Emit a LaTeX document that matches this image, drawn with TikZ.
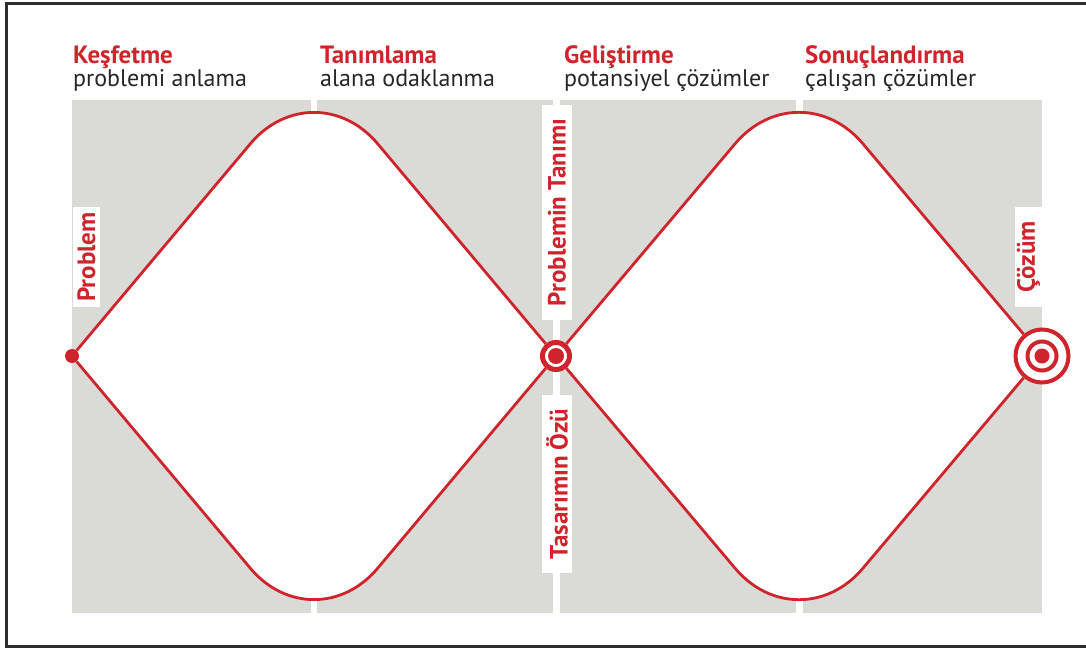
\documentclass[tikz,border=0pt]{standalone}
\usepackage{fontspec}
\setmainfont{PT Sans}
\definecolor{ddred}{RGB}{208,36,44}
\definecolor{panelgray}{RGB}{218,218,214}
\definecolor{framegray}{RGB}{45,45,45}
\begin{document}
\begin{tikzpicture}[x=1pt,y=-1pt,
  panel/.style={fill=panelgray},
  dline/.style={draw=ddred,line width=2.8pt,rounded corners=99pt,line join=round},
  lobe/.style={fill=white,rounded corners=99pt},
  title/.style={anchor=base west,inner sep=0pt,text=ddred,font=\fontsize{25}{28}\selectfont\bfseries},
  subtitle/.style={anchor=base west,inner sep=0pt,text=black!85,font=\fontsize{24}{27}\selectfont},
  vlabel/.style={rotate=90,fill=white,inner sep=0pt,text=ddred,
    font=\fontsize{25}{27}\selectfont\bfseries},
  dot/.style={circle,fill=ddred,inner sep=0pt,minimum size=14pt},
  ring/.style={circle,draw=ddred,fill=white,inner sep=0pt,line width=5pt,minimum size=27pt},
  target/.style={circle,draw=ddred,fill=white,inner sep=0pt,line width=4pt,minimum size=53pt}
]
\useasboundingbox (0,0) rectangle (1086,648);
\clip (0,0) rectangle (1086,648);

% outer frame (open on the right)
\draw[framegray,line width=3pt] (1100,3.5) -- (6.5,3.5) -- (6.5,646.5) -- (1100,646.5);

% four grey phase columns
\fill[panel] (72,100) rectangle (311,613);
\fill[panel] (317,100) rectangle (553,613);
\fill[panel] (560,100) rectangle (796,613);
\fill[panel] (803,100) rectangle (1042,613);

% diamond vertices
\coordinate (t1) at (314,68);
\coordinate (b1) at (314,644);
\coordinate (t2) at (799,68);
\coordinate (b2) at (799,644);
\coordinate (pc) at (72,356);
\coordinate (cc) at (556,356);
\coordinate (sc) at (1042,356);

% white interiors of the two diamonds
\fill[lobe] (pc) -- (t1) -- (cc);
\fill[lobe] (pc) -- (b1) -- (cc);
\fill[lobe] (cc) -- (t2) -- (sc);
\fill[lobe] (cc) -- (b2) -- (sc);

% column headings
\node[title] (h1) at (73,63) {Keşfetme};
\node[subtitle] (s1) at (73,86) {problemi anlama};
\node[title] (h2) at (320,63) {Tanımlama};
\node[subtitle] (s2) at (320,86) {alana odaklanma};
\node[title] (h3) at (564,63) {Geliştirme};
\node[subtitle] (s3) at (564,86) {potansiyel çözümler};
\node[title] (h4) at (805,63) {Sonuçlandırma};
\node[subtitle] (s4) at (805,86) {çalışan çözümler};

% vertical milestone labels
\node[vlabel,minimum width=100pt,minimum height=27pt] (lp) at (86.5,257) {Problem};
\node[vlabel,minimum width=215pt,minimum height=30pt] (lt) at (557,212.5) {Problemin Tanımı};
\node[vlabel,minimum width=178pt,minimum height=30pt] (lo) at (557,484) {Tasarımın Özü};
\node[vlabel,minimum width=100pt,minimum height=27pt] (lc) at (1028.5,257) {Çözüm};

% milestone markers
\node[dot] (p) at (pc) {};
\node[ring] (c) at (cc) {};
\node[target] (s) at (sc) {};

% diamond outlines
\draw[dline] (p) -- (t1) -- (c);
\draw[dline] (p) -- (b1) -- (c);
\draw[dline] (c) -- (t2) -- (s);
\draw[dline] (c) -- (b2) -- (s);

% marker centres
\fill[ddred] (c) circle (8);
\draw[ddred,line width=4pt] (s) circle (14.5);
\fill[ddred] (s) circle (7.5);
\end{tikzpicture}
\end{document}
